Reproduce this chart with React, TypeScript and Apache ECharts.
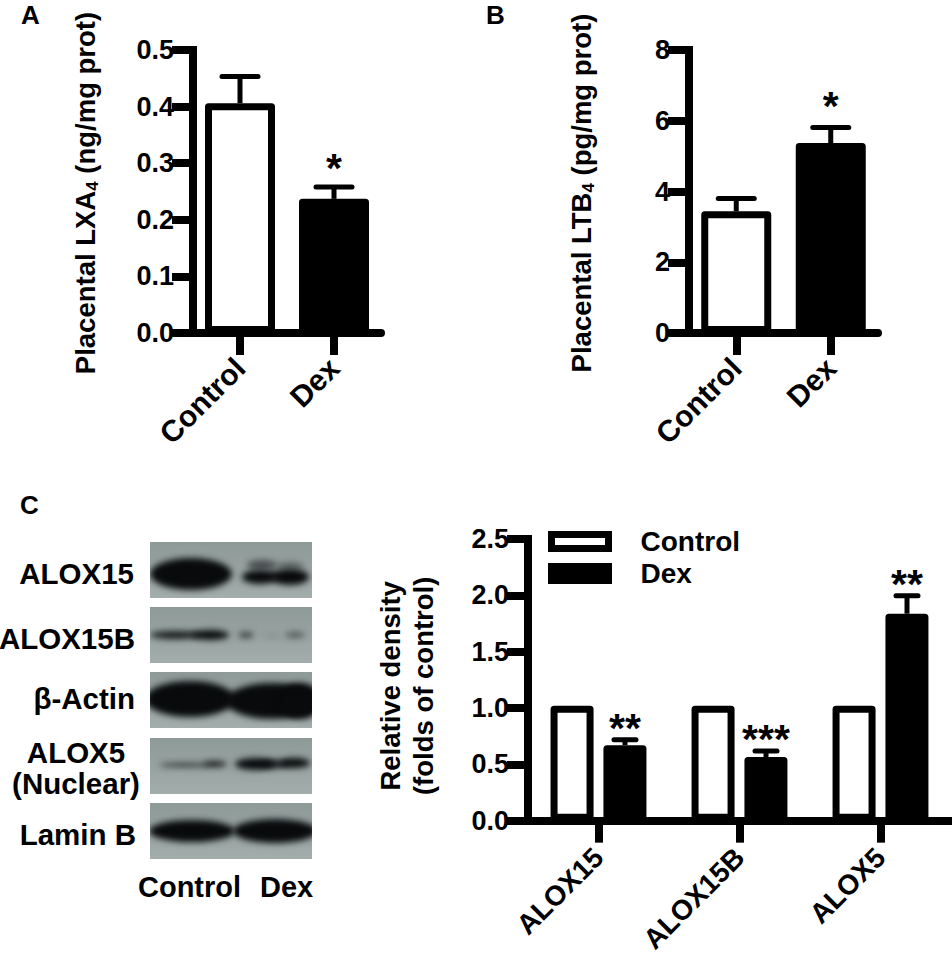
import React, { useEffect, useRef } from "react";
import * as echarts from "echarts";

const FONT = '"Liberation Sans", Arial, sans-serif';

const groups = ["Control", "Dex"];
const lxa4Means = [0.406, 0.237];
const lxa4Upper = [0.453, 0.258];
const lxa4Stars = ["", "*"];
const ltb4Means = [3.44, 5.37];
const ltb4Upper = [3.8, 5.81];
const ltb4Stars = ["", "*"];

const enzymes = ["ALOX15", "ALOX15B", "ALOX5"];
const controlDensity = [1.02, 1.02, 1.02];
const dexDensity = [0.67, 0.565, 1.837];
const dexDensityUpper = [0.718, 0.618, 1.996];
const dexDensityStars = ["**", "***", "**"];

const blotLabels = ["ALOX15", "ALOX15B", "β-Actin", "ALOX5\n(Nuclear)", "Lamin B"];

// Decorative bands of the western blot photo: [row, x, y, rx, ry, darkness]
const blotBands: number[][] = [
  [0, 41, 32, 41, 16, 1],
  [0, 110, 35, 18, 7, 1],
  [0, 140, 35, 19, 8, 1],
  [0, 112, 23, 15, 5, 0.55],
  [0, 140, 24, 14, 4, 0.4],
  [1, 25, 28, 25, 4, 0.9],
  [1, 60, 28, 19, 5, 1],
  [1, 96, 28, 8, 3, 0.65],
  [1, 145, 28, 10, 3, 0.5],
  [1, 122, 29, 9, 1.5, 0.2],
  [2, 40, 27, 45, 18, 1],
  [2, 122, 29, 46, 18, 1],
  [2, 150, 29, 22, 18, 1],
  [3, 35, 27, 26, 2, 0.8],
  [3, 65, 26, 12, 3, 0.9],
  [3, 105, 26, 20, 6, 1],
  [3, 145, 25, 15, 5, 1],
  [3, 125, 26, 16, 4, 0.9],
  [4, 42, 28, 43, 11, 1],
  [4, 125, 28, 42, 12, 1],
];

const BLOT_W = 162;
const BLOT_H = 56;
const blotTops = [542, 607, 672, 738, 803];

function makeBlot(row: number): string {
  const c = document.createElement("canvas");
  c.width = BLOT_W;
  c.height = BLOT_H;
  const ctx = c.getContext("2d")!;
  const g = ctx.createLinearGradient(0, 0, 0, BLOT_H);
  g.addColorStop(0, "#8e9a98");
  g.addColorStop(0.5, "#98a3a1");
  g.addColorStop(1, "#a3adab");
  ctx.fillStyle = g;
  ctx.fillRect(0, 0, BLOT_W, BLOT_H);
  (ctx as any).filter = "blur(3px)";
  blotBands
    .filter((b) => b[0] === row)
    .forEach((b) => {
      ctx.fillStyle = `rgba(8,10,12,${Math.min(1, b[5])})`;
      ctx.beginPath();
      ctx.ellipse(b[1], b[2], b[3], b[4], 0, 0, Math.PI * 2);
      ctx.fill();
    });
  (ctx as any).filter = "none";
  return c.toDataURL("image/png");
}

const AXIS_W = 8;
const labelBase = { color: "#000", fontFamily: FONT, fontWeight: "bold" as const };

function yAxis(grid: number, max: number, interval: number, digits: number, name: string, gap: number, nameSize: number, lineHeight: number, padding: number[]) {
  return {
    type: "value",
    gridIndex: grid,
    min: 0,
    max,
    interval,
    splitLine: { show: false },
    axisLine: { show: true, lineStyle: { color: "#000", width: AXIS_W, cap: "square" } },
    axisTick: { show: true, length: 21, lineStyle: { color: "#000", width: AXIS_W } },
    axisLabel: {
      ...labelBase,
      fontSize: 27,
      margin: 19,
      formatter: (v: number) => v.toFixed(digits),
    },
    name,
    nameLocation: "middle",
    nameRotate: 90,
    nameGap: gap,
    nameTextStyle: {
      ...labelBase,
      fontSize: nameSize,
      lineHeight,
      padding,
      rich: {
        sub: { ...labelBase, fontSize: 17, verticalAlign: "bottom", padding: [12, 0, 0, 0] },
      },
    },
  };
}

function xAxis(grid: number, data: string[], margin: number, size: number) {
  return {
    type: "category",
    gridIndex: grid,
    data,
    axisLine: { show: true, onZero: false, lineStyle: { color: "#000", width: AXIS_W } },
    axisTick: { show: true, alignWithLabel: true, length: 22, lineStyle: { color: "#000", width: AXIS_W } },
    axisLabel: { ...labelBase, fontSize: size, rotate: 45, margin, interval: 0 },
    splitLine: { show: false },
  };
}

const barStyle = (fill: string) => ({
  color: fill,
  borderColor: "#000",
  borderWidth: 7,
  borderJoin: "round",
});

function whiskers(grid: number, cats: number[], means: number[], upper: number[], stars: string[], offset: number, capW: number, starGap: number) {
  return {
    type: "custom",
    xAxisIndex: grid,
    yAxisIndex: grid,
    clip: false,
    z: 5,
    silent: true,
    data: cats.map((c, i) => [c, means[i], upper[i]]),
    encode: { x: 0, y: [1, 2] },
    renderItem: (params: any, api: any) => {
      const a = api.coord([api.value(0), api.value(1)]);
      const b = api.coord([api.value(0), api.value(2)]);
      const x = a[0] + offset;
      const lineStyle = { stroke: "#000", lineWidth: 5, lineCap: "round" };
      const star = stars[params.dataIndex];
      return {
        type: "group",
        children: [
          { type: "line", shape: { x1: x, y1: a[1], x2: x, y2: b[1] }, style: { stroke: "#000", lineWidth: 5 } },
          { type: "line", shape: { x1: x - capW / 2, y1: b[1], x2: x + capW / 2, y2: b[1] }, style: lineStyle },
          ...(star
            ? [
                {
                  type: "text",
                  style: {
                    text: star,
                    x,
                    y: b[1] - starGap,
                    fill: "#000",
                    font: `bold 41px ${FONT}`,
                    align: "center",
                    verticalAlign: "middle",
                  },
                },
              ]
            : []),
        ],
      };
    },
  };
}

function singleBars(grid: number, values: number[]) {
  return {
    type: "bar",
    xAxisIndex: grid,
    yAxisIndex: grid,
    barWidth: 70,
    z: 3,
    data: values.map((v, i) => ({ value: v, itemStyle: barStyle(i === 0 ? "#fff" : "#000") })),
  };
}

function panelText(text: string, x: number, y: number, size: number, align = "left") {
  return {
    type: "text",
    x,
    y,
    style: { text, fill: "#000", font: `bold ${size}px ${FONT}`, align, verticalAlign: "middle", lineHeight: size + 4 },
  };
}

export default function App() {
  const ref = useRef<HTMLDivElement>(null);
  useEffect(() => {
    const chart = echarts.init(ref.current!, undefined, { renderer: "svg" });
    const graphic: any[] = [
      panelText("A", 21, 15, 26),
      panelText("B", 486, 15, 26),
      panelText("C", 20, 505, 26),
      ...blotTops.map((top, i) => ({
        type: "image",
        style: { image: makeBlot(i), x: 150, y: top, width: BLOT_W, height: BLOT_H },
      })),
      panelText(blotLabels[0], 134, 573, 29.5, "right"),
      panelText(blotLabels[1], 135, 638, 29.5, "right"),
      panelText(blotLabels[2], 135, 698, 29.5, "right"),
      panelText("ALOX5", 76, 752, 29.5, "center"),
      panelText("(Nuclear)", 76, 783, 29.5, "center"),
      panelText(blotLabels[4], 136, 834, 29.5, "right"),
      panelText("Control", 138, 887, 29),
      panelText("Dex", 260, 887, 29),
    ];
    chart.setOption({
      animation: false,
      backgroundColor: "#fff",
      grid: [
        { left: 193, width: 188, top: 50, height: 283 },
        { left: 689, width: 189, top: 50, height: 283 },
        { left: 528, width: 423, top: 539, height: 283 },
      ],
      xAxis: [xAxis(0, groups, 30, 30), xAxis(1, groups, 30, 30), xAxis(2, enzymes, 32, 28)],
      yAxis: [
        yAxis(0, 0.5, 0.1, 1, "Placental LXA{sub|4} (ng/mg prot)", 92, 27.5, 32, [0, 3, 0, 0]),
        yAxis(1, 8, 2, 0, "Placental LTB{sub|4} (pg/mg prot)", 92, 27.5, 32, [0, 3, 0, 0]),
        yAxis(2, 2.5, 0.5, 1, "Relative density\n(folds of control)", 88, 27.5, 33, [0, 12, 0, 0]),
      ],
      legend: {
        data: ["Control", "Dex"],
        orient: "vertical",
        left: 548,
        top: 527.5,
        padding: 0,
        itemWidth: 57,
        itemHeight: 14,
        itemGap: 4,
        selectedMode: false,
        icon: "rect",
        itemStyle: { borderWidth: 7, borderColor: "#000", borderJoin: "miter" },
        textStyle: { ...labelBase, fontSize: 28, padding: [0, 0, 0, 27] },
      },
      graphic,
      series: [
        singleBars(0, lxa4Means),
        whiskers(0, [0, 1], lxa4Means, lxa4Upper, lxa4Stars, 0, 36, 19),
        singleBars(1, ltb4Means),
        whiskers(1, [0, 1], ltb4Means, ltb4Upper, ltb4Stars, 0, 36, 21),
        {
          type: "bar",
          name: "Control",
          xAxisIndex: 2,
          yAxisIndex: 2,
          barWidth: 43,
          barGap: "23%",
          z: 3,
          itemStyle: barStyle("#fff"),
          data: controlDensity,
        },
        {
          type: "bar",
          name: "Dex",
          xAxisIndex: 2,
          yAxisIndex: 2,
          barWidth: 43,
          barGap: "23%",
          z: 3,
          itemStyle: barStyle("#000"),
          data: dexDensity,
        },
        whiskers(2, [0, 1, 2], dexDensity, dexDensityUpper, dexDensityStars, 26.5, 22, 12),
      ],
    });
    return () => chart.dispose();
  }, []);
  return <div ref={ref} style={{ position: "fixed", left: 0, top: 0, width: 952, height: 956 }} />;
}
